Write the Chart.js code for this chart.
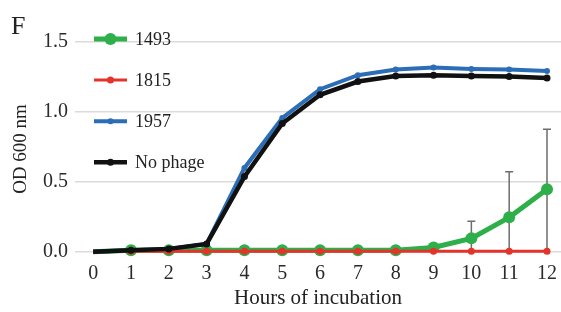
<!DOCTYPE html>
<html>
<head>
<meta charset="utf-8">
<title>OD 600 nm</title>
<style>
body {
	margin: 0;
	background: white;
}
#wrap {
	position: relative;
	width: 561px;
	height: 312px;
}
#panel {
	position: absolute;
	left: 11px;
	top: 13px;
	font-family: "Liberation Serif", serif;
	font-size: 26px;
	line-height: 1;
	color: #222;
}
</style>
</head>
<body>
<div id="wrap">
	<canvas id="growth"></canvas>
	<div id="panel">F</div>
</div>
<script src="https://cdn.jsdelivr.net/npm/chart.js@4"></script>
<script>
// hours on the x axis
var hours = [0, 1, 2, 3, 4, 5, 6, 7, 8, 9, 10, 11, 12];
var xTicks = [0, 1, 2, 3, 4, 5, 6, 7, 8, 9, 10, 11, 12];
var yTicks = [0, 0.5, 1.0, 1.5];

// OD600 readings
var od1493 = [0, 0.01, 0.01, 0.01, 0.01, 0.01, 0.01, 0.01, 0.01, 0.03, 0.095, 0.245, 0.445];
var od1815 = [0, 0.003, 0.003, 0.003, 0.003, 0.003, 0.003, 0.003, 0.003, 0.003, 0.003, 0.003, 0.003];
var od1957 = [0, 0.01, 0.02, 0.055, 0.598, 0.955, 1.16, 1.26, 1.30, 1.315, 1.305, 1.30, 1.29];
var odNoPhage = [0, 0.01, 0.02, 0.055, 0.536, 0.915, 1.12, 1.215, 1.255, 1.26, 1.255, 1.25, 1.24];
// error bar (sd) for 1493
var sd1493 = [0, 0, 0, 0, 0, 0, 0, 0, 0, 0, 0.122, 0.325, 0.43];

var labels = ['1493', '1815', '1957', 'No phage'];
var colors = ['#2eaf4a', '#e4332a', '#2c6db8', '#111111'];
var lineW = [5, 3, 4, 4.5];
var dotR = [6, 3.5, 3, 3.5];
var drawOrder = [3, 1, 2, 0]; // black on top, then red

function pts(arr) {
	return hours.map(function (h, i) { return {x: h, y: arr[i]}; });
}
var series = [od1493, od1815, od1957, odNoPhage];

var datasets = series.map(function (s, k) {
	return {
		label: labels[k],
		data: pts(s),
		borderColor: colors[k],
		backgroundColor: colors[k],
		borderWidth: lineW[k],
		pointBorderWidth: 0,
		pointRadius: function (ctx) { return ctx.dataIndex === 0 ? 0 : dotR[k]; },
		tension: 0,
		order: drawOrder[k]
	};
});

// error bars, drawn under the lines
var errorBars = {
	id: 'errorBars',
	beforeDatasetsDraw: function (chart) {
		var c = chart.ctx, xs = chart.scales.x, ys = chart.scales.y;
		c.save();
		c.strokeStyle = '#6d6d6d';
		c.lineWidth = 1.5;
		for (var i = 0; i < hours.length; i++) {
			if (!sd1493[i]) continue;
			var px = xs.getPixelForValue(hours[i]);
			var top = ys.getPixelForValue(od1493[i] + sd1493[i]);
			var bot = ys.getPixelForValue(Math.max(od1493[i] - sd1493[i], 0));
			c.beginPath();
			c.moveTo(px, bot);
			c.lineTo(px, top);
			c.moveTo(px - 4, top);
			c.lineTo(px + 4, top);
			c.stroke();
		}
		c.restore();
	}
};

// legend inside the plot, top left
var innerLegend = {
	id: 'innerLegend',
	afterDatasetsDraw: function (chart) {
		var c = chart.ctx;
		c.save();
		c.font = '18px "Liberation Serif", serif';
		c.textBaseline = 'middle';
		for (var k = 0; k < labels.length; k++) {
			var y = 39 + k * 41.1;
			c.strokeStyle = colors[k];
			c.lineWidth = lineW[k];
			c.beginPath();
			c.moveTo(94, y);
			c.lineTo(127, y);
			c.stroke();
			c.fillStyle = colors[k];
			c.beginPath();
			c.arc(110.5, y, dotR[k], 0, Math.PI * 2);
			c.fill();
			c.fillStyle = '#222';
			c.fillText(labels[k], 135, y + 1);
		}
		c.restore();
	}
};

var ctx = document.getElementById('growth').getContext('2d');
var myChart = new Chart(ctx, {
	type: 'line',
	data: { datasets: datasets },
	plugins: [errorBars, innerLegend],
	options: {
		responsive: true,
		maintainAspectRatio: false,
		animation: false,
		layout: {
			autoPadding: false,
			padding: { top: 22, right: 0, bottom: 0, left: 0 }
		},
		plugins: {
			legend: { display: false },
			tooltip: { enabled: false }
		},
		scales: {
			x: {
				type: 'linear',
				min: -0.48,
				max: 12.37,
				grid: { display: false, drawTicks: false },
				border: { display: false },
				afterBuildTicks: function (axis) {
					axis.ticks = xTicks.map(function (v) { return {value: v}; });
				},
				afterFit: function (axis) {
					axis.height = 55;
					axis.paddingLeft = 0;
					axis.paddingRight = 0;
				},
				ticks: {
					padding: 5,
					color: '#2a2a2a',
					font: { family: '"Liberation Serif", serif', size: 20 },
					callback: function (v) { return String(v); }
				},
				title: {
					display: true,
					text: 'Hours of incubation',
					color: '#222',
					padding: { top: 0, bottom: 1 },
					font: { family: '"Liberation Serif", serif', size: 21 }
				}
			},
			y: {
				min: -0.038,
				max: 1.64,
				grid: { color: '#dedada', lineWidth: 1.5, drawTicks: false },
				border: { display: false },
				afterBuildTicks: function (axis) {
					axis.ticks = yTicks.map(function (v) { return {value: v}; });
				},
				afterFit: function (axis) { axis.width = 75; },
				ticks: {
					padding: 7,
					color: '#2a2a2a',
					font: { family: '"Liberation Serif", serif', size: 20 },
					callback: function (v) { return v.toFixed(1); }
				},
				title: {
					display: true,
					text: 'OD 600 nm    ',
					color: '#222',
					padding: { top: 10, bottom: 0 },
					font: { family: '"Liberation Serif", serif', size: 19 }
				}
			}
		}
	}
});
</script>
</body>
</html>
